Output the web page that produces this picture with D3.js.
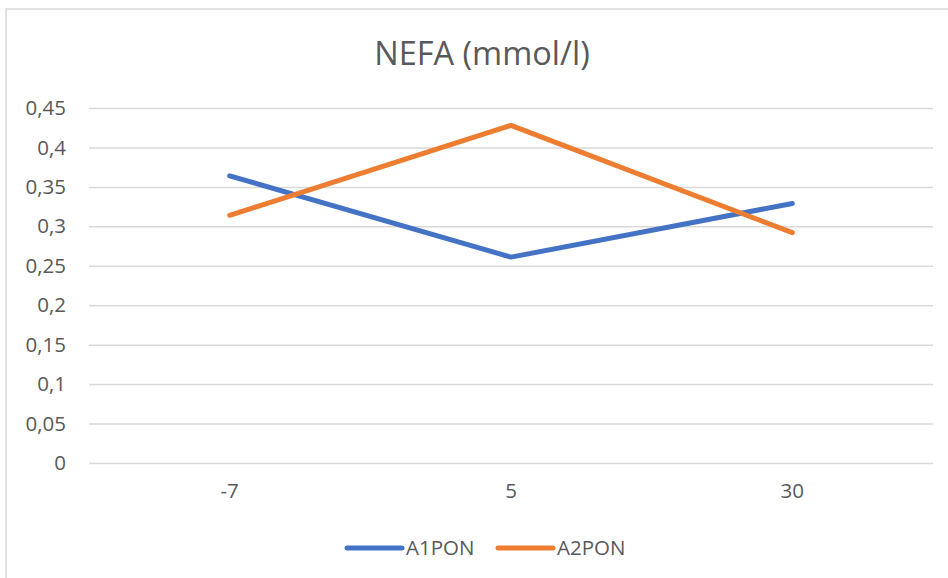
<!DOCTYPE html>
<html>
<head>
<meta charset="utf-8">
<script src="https://cdn.jsdelivr.net/npm/d3@7"></script>
<style>
  body { margin: 0; background: #fff; }
  text { font-family: "Open Sans", sans-serif; fill: #595959; }
</style>
</head>
<body>
<div id="chart"></div>
<script>
const categories = ['-7', '5', '30']
const a1pon = [0.364, 0.261, 0.329]
const a2pon = [0.314, 0.428, 0.292]
const seriesNames = ['A1PON', 'A2PON']
const yTicks = [0, 0.05, 0.1, 0.15, 0.2, 0.25, 0.3, 0.35, 0.4, 0.45]

const width = 948
const height = 578
const colors = ['#4472C4', '#ED7D31']
const margin = { top: 108, right: 15, bottom: 115, left: 89 }

const svg = d3.select('#chart').append('svg')
  .attr('width', width)
  .attr('height', height)

// chart frame (only top and left edges are visible in the crop)
svg.append('path')
  .attr('d', 'M6,578V9H948')
  .attr('fill', 'none')
  .attr('stroke', '#d9d9d9')
  .attr('stroke-width', 1.5)

const x = d3.scaleBand()
  .domain(categories)
  .range([margin.left, width - margin.right])

const y = d3.scaleLinear()
  .domain([0, 0.45])
  .range([height - margin.bottom, margin.top])

const fmt = d => d3.format('~g')(d).replace('.', ',')

// gridlines + y labels
const yAxis = svg.append('g')
  .attr('transform', 'translate(' + margin.left + ',0)')
  .call(d3.axisLeft(y).tickValues(yTicks).tickFormat(fmt)
    .tickSize(-(width - margin.left - margin.right)).tickPadding(23))
yAxis.select('.domain').remove()
yAxis.selectAll('line').attr('stroke', '#d9d9d9').attr('stroke-width', 1.5)
yAxis.selectAll('text').attr('font-size', 20.5).attr('fill', '#595959')
  .style('font-family', '"Open Sans", sans-serif')

// x labels
const xAxis = svg.append('g')
  .attr('transform', 'translate(0,' + (height - margin.bottom) + ')')
  .call(d3.axisBottom(x).tickSize(0).tickPadding(20))
xAxis.select('.domain').remove()
xAxis.selectAll('text').attr('font-size', 20.5).attr('fill', '#595959')
  .style('font-family', '"Open Sans", sans-serif')

// lines
const line = d3.line()
  .x((d, i) => x(categories[i]) + x.bandwidth() / 2)
  .y(d => y(d))

;[a1pon, a2pon].forEach((vals, k) => {
  svg.append('path')
    .datum(vals)
    .attr('d', line)
    .attr('fill', 'none')
    .attr('stroke', colors[k])
    .attr('stroke-width', 5)
    .attr('stroke-linecap', 'round')
    .attr('stroke-linejoin', 'round')
})

// title
svg.append('text')
  .attr('x', 482)
  .attr('y', 65)
  .attr('text-anchor', 'middle')
  .attr('font-size', 32.5)
  .text('NEFA (mmol/l)')

// legend
const legendX = [347, 498]
seriesNames.forEach((name, k) => {
  const g = svg.append('g').attr('transform', 'translate(' + legendX[k] + ',548)')
  g.append('line')
    .attr('x1', 0).attr('x2', 55)
    .attr('stroke', colors[k])
    .attr('stroke-width', 5)
    .attr('stroke-linecap', 'round')
  g.append('text')
    .attr('x', 59)
    .attr('dy', '0.35em')
    .attr('font-size', 20.5)
    .text(name)
})
</script>
</body>
</html>
